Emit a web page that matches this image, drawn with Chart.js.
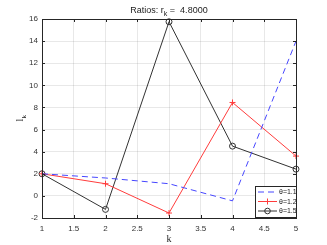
<!DOCTYPE html>
<html><head><meta charset="utf-8">
<script src="https://cdn.jsdelivr.net/npm/chart.js"></script>
<style>html,body{margin:0;padding:0;background:#fff}#c{display:block}</style>
</head><body>
<div style="width:327px;height:245px"><canvas id="c" width="327" height="245"></canvas></div>
<script>
const kValues = [1, 2, 3, 4, 5];
const theta11 = [2.0, 1.62, 1.1, -0.45, 14.0];
const theta12 = [2.0, 1.1, -1.55, 8.45, 3.6];
const theta15 = [2.0, -1.22, 15.75, 4.5, 2.42];
const seriesLabels = ['\u03b8=1.1', '\u03b8=1.2', '\u03b8=1.5'];
const xTicks = [1, 1.5, 2, 2.5, 3, 3.5, 4, 4.5, 5];
const yTicks = [-2, 0, 2, 4, 6, 8, 10, 12, 14, 16];

const pts = a => kValues.map((k, i) => ({x: k, y: a[i]}));

const decor = {
  id: 'decor',
  afterDraw(chart) {
    const ctx = chart.ctx, ca = chart.chartArea;
    const xs = chart.scales.x, ys = chart.scales.y;
    ctx.save();
    ctx.strokeStyle = '#262626'; ctx.lineWidth = 1;
    ctx.strokeRect(Math.round(ca.left) + 0.5, Math.round(ca.top) + 0.5, Math.round(ca.right - ca.left), Math.round(ca.bottom - ca.top));
    ctx.beginPath();
    xTicks.forEach(v => { const px = Math.round(xs.getPixelForValue(v)) + 0.5;
      ctx.moveTo(px, ca.bottom); ctx.lineTo(px, ca.bottom - 3);
      ctx.moveTo(px, ca.top); ctx.lineTo(px, ca.top + 3); });
    yTicks.forEach(v => { const py = Math.round(ys.getPixelForValue(v)) + 0.5;
      ctx.moveTo(ca.left, py); ctx.lineTo(ca.left + 3, py);
      ctx.moveTo(ca.right, py); ctx.lineTo(ca.right - 3, py); });
    ctx.stroke();
    ctx.fillStyle = '#222';
    ctx.textBaseline = 'alphabetic';
    const f1 = '9px "Liberation Sans", Arial, sans-serif', f2 = '7px "Liberation Sans", Arial, sans-serif';
    const parts = [['Ratios: r', f1, 0], ['k', f2, 3], [' =  4.8000', f1, 0]];
    let w = 0; parts.forEach(p => { ctx.font = p[1]; w += ctx.measureText(p[0]).width; });
    let x = (ca.left + ca.right) / 2 - w / 2;
    parts.forEach(p => { ctx.font = p[1]; ctx.textAlign = 'left'; ctx.fillText(p[0], x, 13 + p[2]); x += ctx.measureText(p[0]).width; });
    ctx.font = '10px "Liberation Serif", "Times New Roman", serif';
    ctx.textAlign = 'center';
    ctx.fillText('k', (ca.left + ca.right) / 2, 242);
    ctx.save();
    ctx.translate(23, (ca.top + ca.bottom) / 2);
    ctx.rotate(-Math.PI / 2);
    ctx.font = '10px "Liberation Serif", "Times New Roman", serif';
    ctx.textAlign = 'left';
    ctx.fillText('l', -3, 0);
    ctx.font = '7px "Liberation Serif", "Times New Roman", serif';
    ctx.fillText('k', 0, 3);
    ctx.restore();
    const lx = 255, ly = 186, lw = 41, lh = 31;
    ctx.fillStyle = '#fff';
    ctx.fillRect(lx, ly, lw, lh);
    ctx.strokeStyle = '#262626'; ctx.lineWidth = 1;
    ctx.strokeRect(lx + 0.5, ly + 0.5, lw, lh);
    chart.data.datasets.forEach((ds, i) => {
      const yy = ly + 6 + i * 9.5;
      ctx.save();
      ctx.strokeStyle = ds.borderColor; ctx.lineWidth = 1;
      ctx.setLineDash(ds.borderDash || []);
      ctx.beginPath(); ctx.moveTo(lx + 3, yy); ctx.lineTo(lx + 22, yy); ctx.stroke();
      ctx.setLineDash([]);
      if (ds.pointStyle === 'cross') {
        ctx.beginPath(); ctx.moveTo(lx + 12.5, yy - 3); ctx.lineTo(lx + 12.5, yy + 3);
        ctx.moveTo(lx + 9.5, yy); ctx.lineTo(lx + 15.5, yy); ctx.stroke();
      } else if (ds.pointStyle === 'circle' && ds.pointRadius > 0) {
        ctx.beginPath(); ctx.arc(lx + 12.5, yy, 2.8, 0, Math.PI * 2); ctx.stroke();
      }
      ctx.fillStyle = '#222';
      ctx.font = '7px "Liberation Sans", Arial, sans-serif';
      ctx.textAlign = 'left'; ctx.textBaseline = 'middle';
      ctx.fillText(ds.label, lx + 24, yy + 0.5);
      ctx.restore();
    });
    ctx.restore();
  }
};

new Chart(document.getElementById('c'), {
  type: 'line',
  data: {
    datasets: [
      {label: seriesLabels[0], data: pts(theta11), borderColor: 'rgb(70,70,255)', borderWidth: 1, borderDash: [6, 4], pointRadius: 0, pointStyle: 'circle', fill: false, tension: 0},
      {label: seriesLabels[1], data: pts(theta12), borderColor: 'rgb(255,60,60)', borderWidth: 1, pointStyle: 'cross', pointRadius: 3, pointBorderWidth: 1, fill: false, tension: 0},
      {label: seriesLabels[2], data: pts(theta15), borderColor: 'rgb(50,50,50)', borderWidth: 1, pointStyle: 'circle', pointRadius: 3, pointBorderWidth: 1, pointBackgroundColor: 'rgba(0,0,0,0)', fill: false, tension: 0}
    ]
  },
  options: {
    responsive: false,
    animation: false,
    clip: false,
    layout: {padding: {top: 19, right: 31, left: 0, bottom: 0}},
    plugins: {legend: {display: false}, title: {display: false}, tooltip: {enabled: false}},
    scales: {
      x: {
        type: 'linear', min: 1, max: 5,
        afterBuildTicks: s => { s.ticks = xTicks.map(v => ({value: v})); },
        afterFit: s => { s.height = 27; },
        grid: {color: 'rgba(0,0,0,0.09)', drawTicks: false},
        border: {display: false},
        ticks: {font: {family: '"Liberation Sans", Arial, sans-serif', size: 8}, color: '#333', padding: 6, maxRotation: 0, autoSkip: false, callback: v => String(v)}
      },
      y: {
        type: 'linear', min: -2, max: 16,
        afterBuildTicks: s => { s.ticks = yTicks.map(v => ({value: v})); },
        afterFit: s => { s.width = 42; },
        grid: {color: 'rgba(0,0,0,0.09)', drawTicks: false},
        border: {display: false},
        ticks: {font: {family: '"Liberation Sans", Arial, sans-serif', size: 8}, color: '#333', padding: 4, autoSkip: false, callback: v => String(v)}
      }
    }
  },
  plugins: [decor]
});
</script>
</body></html>
